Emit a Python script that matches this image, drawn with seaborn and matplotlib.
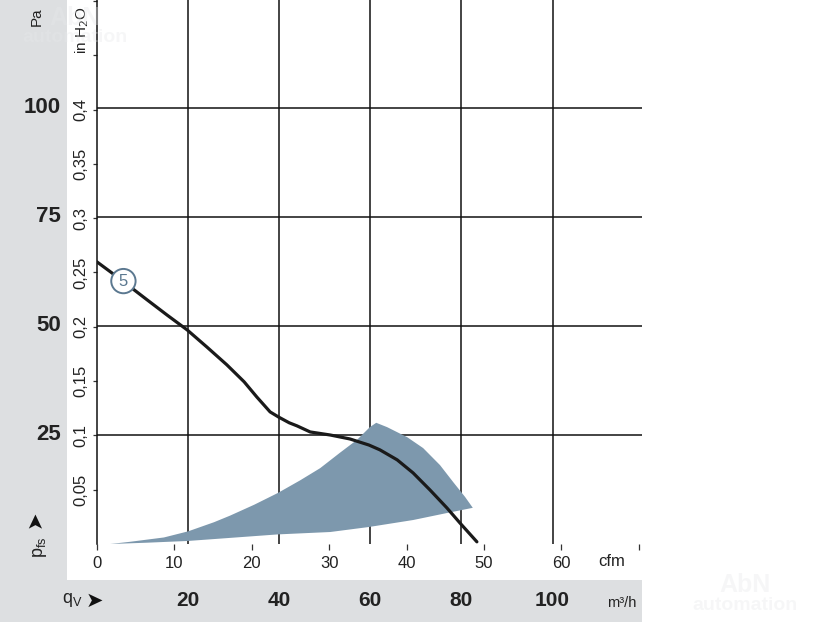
import numpy as np
import pandas as pd
import seaborn as sns
import matplotlib
matplotlib.use("Agg")
from matplotlib import pyplot as plt
from matplotlib.patches import Rectangle

# curve 5, static pressure (Pa) over air flow (m3/h)
flow_m3h = [0, 4.4, 11.0, 15.4, 19.8, 24.1, 28.5, 32.3, 35.1, 38.0, 39.9, 42.2, 43.9, 46.8,
            51.2, 55.5, 59.7, 62.1, 65.9, 69.4, 73.1, 76.8, 79.7, 83.4]
pressure_pa = [64.7, 61.3, 56.0, 52.5, 49.1, 45.2, 41.1, 37.2, 33.7, 30.3, 29.1, 27.8, 27.1, 25.7,
               25.0, 24.1, 22.7, 21.6, 19.3, 16.3, 12.4, 8.3, 4.8, 0.5]

# shaded operating range: upper edge, right edge, then lower edge back
area_flow = [2.9, 7.2, 14.7, 20, 25.7, 29.2, 34.5, 39.7, 44.6, 49.0, 53.3, 57.1, 59.9, 61.3,
             63.7, 68.1, 71.6, 75.3, 78.2, 80.8, 82.5,
             76.8, 69.4, 59.7, 51.2, 39.7, 29.2, 20, 11.0]
area_pa = [0, 0.5, 1.5, 2.9, 5.0, 6.5, 9.0, 11.7, 14.6, 17.4, 20.9, 23.9, 26.8, 27.8,
           26.8, 24.5, 22.0, 18.1, 14.2, 10.8, 8.3,
           7.1, 5.5, 3.9, 2.75, 2.2, 1.4, 0.7, 0.3]

pa_ticks = [25, 50, 75, 100]
m3h_ticks = [20, 40, 60, 80, 100]
cfm_ticks = [0, 10, 20, 30, 40, 50, 60, 70]
inh2o_ticks = [0.05, 0.1, 0.15, 0.2, 0.25, 0.3, 0.35, 0.4, 0.45, 0.5]
inh2o_labels = ["0,05", "0,1", "0,15", "0,2", "0,25", "0,3", "0,35", "0,4", "", ""]

CFM = 1.699      # m3/h per cfm
INH2O = 249.089  # Pa per inch of water

sns.set_style("white")
plt.rcParams['font.family'] = ['Liberation Sans Narrow', 'Liberation Sans', 'DejaVu Sans']

W, H = 816, 624
fig = plt.figure(figsize=(W / 100, H / 100), dpi=100)

gray = "#dddfe1"
fig.add_artist(Rectangle((0, (H - 580) / H), 67 / W, 580 / H, transform=fig.transFigure,
                         facecolor=gray, edgecolor="none", zorder=0))
fig.add_artist(Rectangle((0, 2 / H), 642 / W, 42 / H, transform=fig.transFigure,
                         facecolor=gray, edgecolor="none", zorder=0))

# faint watermarks
for x, y in [(75, 18), (745, 585)]:
    fig.text(x / W, 1 - y / H, "AbN", ha="center", va="center", fontsize=18, fontweight="bold",
             color="#e6e8ea", alpha=0.35, zorder=0.5)
    fig.text(x / W, 1 - (y + 20) / H, "automation", ha="center", va="center", fontsize=14,
             fontweight="bold", color="#e6e8ea", alpha=0.35, zorder=0.5)

ax = fig.add_axes([97 / W, (H - 544) / H, 545 / W, 544 / H])
ax.patch.set_alpha(0)
ax.set_xlim(0, 545 / 4.555)
ax.set_ylim(0, 544 / 4.36)

# grid
ax.hlines(pa_ticks, 0, 545 / 4.555, color="#111111", lw=1.1, zorder=1)
ax.vlines(m3h_ticks, 0, 544 / 4.36, color="#111111", lw=1.1, zorder=1)

ax.fill(area_flow, area_pa, color="#7d98ad", lw=0, zorder=2)

df = pd.DataFrame({"flow": flow_m3h, "pa": pressure_pa})
sns.lineplot(data=df, x="flow", y="pa", ax=ax, color="#1a1a1a", lw=2.3, zorder=3)

ax.text(5.8, 60.3, "5", ha="center", va="center", fontsize=12, color="#5b7890", zorder=4,
        bbox=dict(boxstyle="circle,pad=0.28", fc="white", ec="#5b7890", lw=1.4))

for s in ["top", "right", "bottom"]:
    ax.spines[s].set_visible(False)
ax.spines["left"].set_color("#111111")
ax.spines["left"].set_linewidth(1.1)

ax.set_yticks(np.array(inh2o_ticks) * INH2O)
ax.set_yticklabels(inh2o_labels, rotation=90, va="center", fontsize=12, color="#222222")
ax.tick_params(axis="y", direction="out", length=3, width=0.9, pad=3, left=True, color="#333333")

ax.set_xticks(np.array(cfm_ticks) * CFM)
ax.set_xticklabels([str(c) if c < 70 else "" for c in cfm_ticks], fontsize=12, color="#222222")
ax.tick_params(axis="x", direction="out", length=4, width=0.9, pad=5, bottom=True, color="#333333")
ax.set_xlabel("")
ax.set_ylabel("")

ax.text((612 - 97) / 4.555, -18 / 544, "cfm", transform=ax.get_xaxis_transform(),
        ha="center", va="center", fontsize=12, color="#222222")

# Pa labels on the grey panel
for v in pa_ticks:
    ax.text(-36 / 545, v, str(v), transform=ax.get_yaxis_transform(), ha="right", va="center",
            fontsize=16, fontweight="bold", color="#222222")
ax.text(-60 / 545, (544 - 17) / 544, "Pa", transform=ax.transAxes, rotation=90,
        ha="center", va="center", fontsize=11, color="#222222")
ax.text(-15 / 545, (544 - 30) / 544, "in H$_2$O", transform=ax.transAxes, rotation=90,
        ha="center", va="center", fontsize=11, color="#222222")

# m3/h labels on the grey band
for v in m3h_ticks:
    ax.text(v, -57 / 544, str(v), transform=ax.get_xaxis_transform(), ha="center", va="center",
            fontsize=15, fontweight="bold", color="#222222")
ax.text((622 - 97) / 4.555, -59 / 544, "m³/h", transform=ax.get_xaxis_transform(),
        ha="center", va="center", fontsize=10.5, color="#222222")

# axis symbols
fig.text(72 / W, 1 - 600 / H, "q$_\\mathregular{V}$", ha="center", va="center",
         fontsize=13, color="#222222")
fig.text(94 / W, 1 - 601 / H, "➤", family="DejaVu Sans", ha="center", va="center",
         fontsize=15, color="#111111")
fig.text(35 / W, 1 - 519 / H, "➤", family="DejaVu Sans", rotation=90, ha="center", va="center",
         fontsize=15, color="#111111")
fig.text(40 / W, 1 - 547 / H, "p$_\\mathregular{fs}$", rotation=90, ha="center", va="center",
         fontsize=13, color="#222222")

fig.savefig("out.png", dpi=100)
